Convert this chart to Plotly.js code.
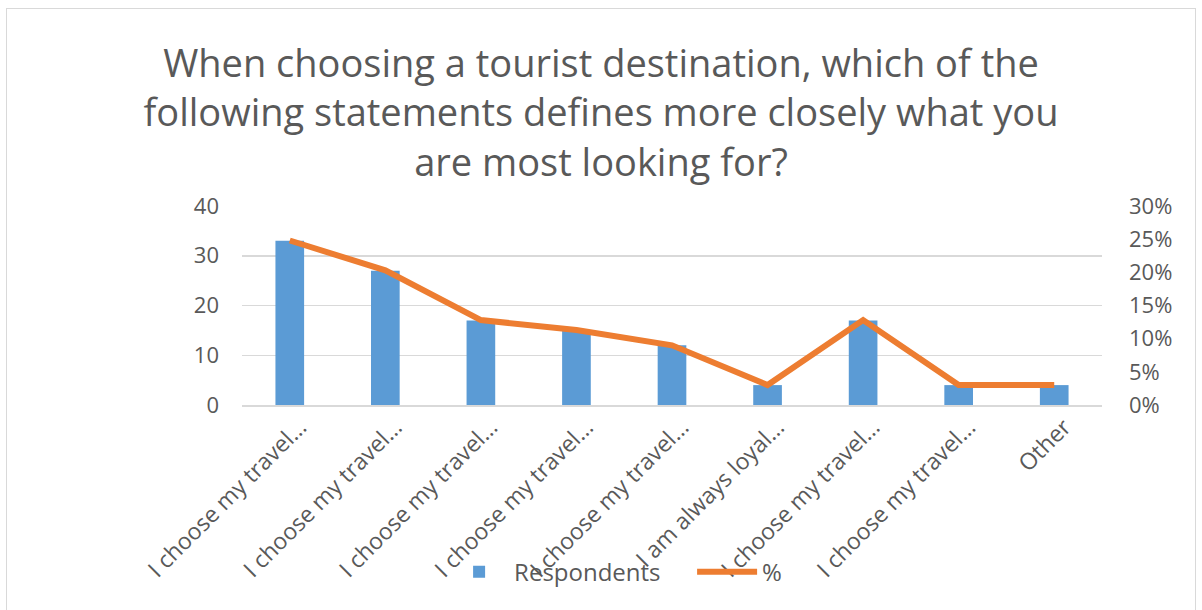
<!DOCTYPE html>
<html>
<head>
<meta charset="utf-8">
<script src="https://cdn.plot.ly/plotly-3.0.1.min.js"></script>
<style>
html,body{margin:0;padding:0;background:#fff;}
#wrap{position:relative;width:1202px;height:610px;}
#chart{width:1202px;height:610px;}
#frame{position:absolute;left:6px;top:8px;width:1190px;height:610px;border:1.5px solid #d9d9d9;pointer-events:none;box-sizing:border-box;}
</style>
</head>
<body>
<div id="wrap"><div id="chart"></div><div id="frame"></div></div>
<script>
const categories = ["I choose my travel…","I choose my travel…","I choose my travel…","I choose my travel…","I choose my travel…","I am always loyal…","I choose my travel…","I choose my travel…","Other"];
const respondents = [33, 27, 17, 15, 12, 4, 17, 4, 4];
const percent = [0.248, 0.203, 0.128, 0.113, 0.090, 0.030, 0.128, 0.030, 0.030];
const positions = categories.map((c, i) => i);

const gray = '#595959';
const font = 'Open Sans, sans-serif';

const traces = [
  {type:'bar', name:'Respondents', x:positions, y:respondents, marker:{color:'#5B9BD5'}, yaxis:'y'},
  {type:'scatter', mode:'lines', name:'%', x:positions, y:percent, line:{color:'#ED7D31', width:6}, yaxis:'y2'}
];

const layout = {
  width:1202, height:610,
  margin:{l:242, r:100, t:206, b:205},
  paper_bgcolor:'#fff', plot_bgcolor:'#fff',
  font:{family:font, color:gray, size:22},
  title:{text:'When choosing a tourist destination, which of the<br>following statements defines more closely what you<br>are most looking for?', font:{family:font, size:38, color:gray}, x:0.5, xanchor:'center', y:0.874, yanchor:'top', yref:'container'},
  bargap:0.70,
  showlegend:true,
  legend:{orientation:'h', x:0.235, xanchor:'left', y:-0.84, yanchor:'middle', itemwidth:60, entrywidth:173, entrywidthmode:'pixels', font:{size:24, color:gray}, bgcolor:'rgba(0,0,0,0)'},
  xaxis:{tickmode:'array', tickvals:positions, ticktext:categories, tickangle:-45, range:[-0.5, 8.5], showgrid:false, zeroline:false, showline:true, linecolor:'#d9d9d9', linewidth:1.5, ticks:'', tickfont:{size:23, color:gray}, ticklabelshift:10, ticklabelstandoff:-2},
  yaxis:{range:[0,40], dtick:10, showgrid:true, gridcolor:'#d9d9d9', gridwidth:1.5, zeroline:false, showline:false, ticks:'', tickfont:{size:22, color:gray}, ticklabelstandoff:22},
  yaxis2:{range:[0,0.3], dtick:0.05, tickformat:'.0%', overlaying:'y', side:'right', showgrid:false, zeroline:false, showline:false, ticks:'', tickfont:{size:22, color:gray}, ticklabelstandoff:26}
};

Plotly.newPlot('chart', traces, layout, {displayModeBar:false, staticPlot:true});
</script>
</body>
</html>
